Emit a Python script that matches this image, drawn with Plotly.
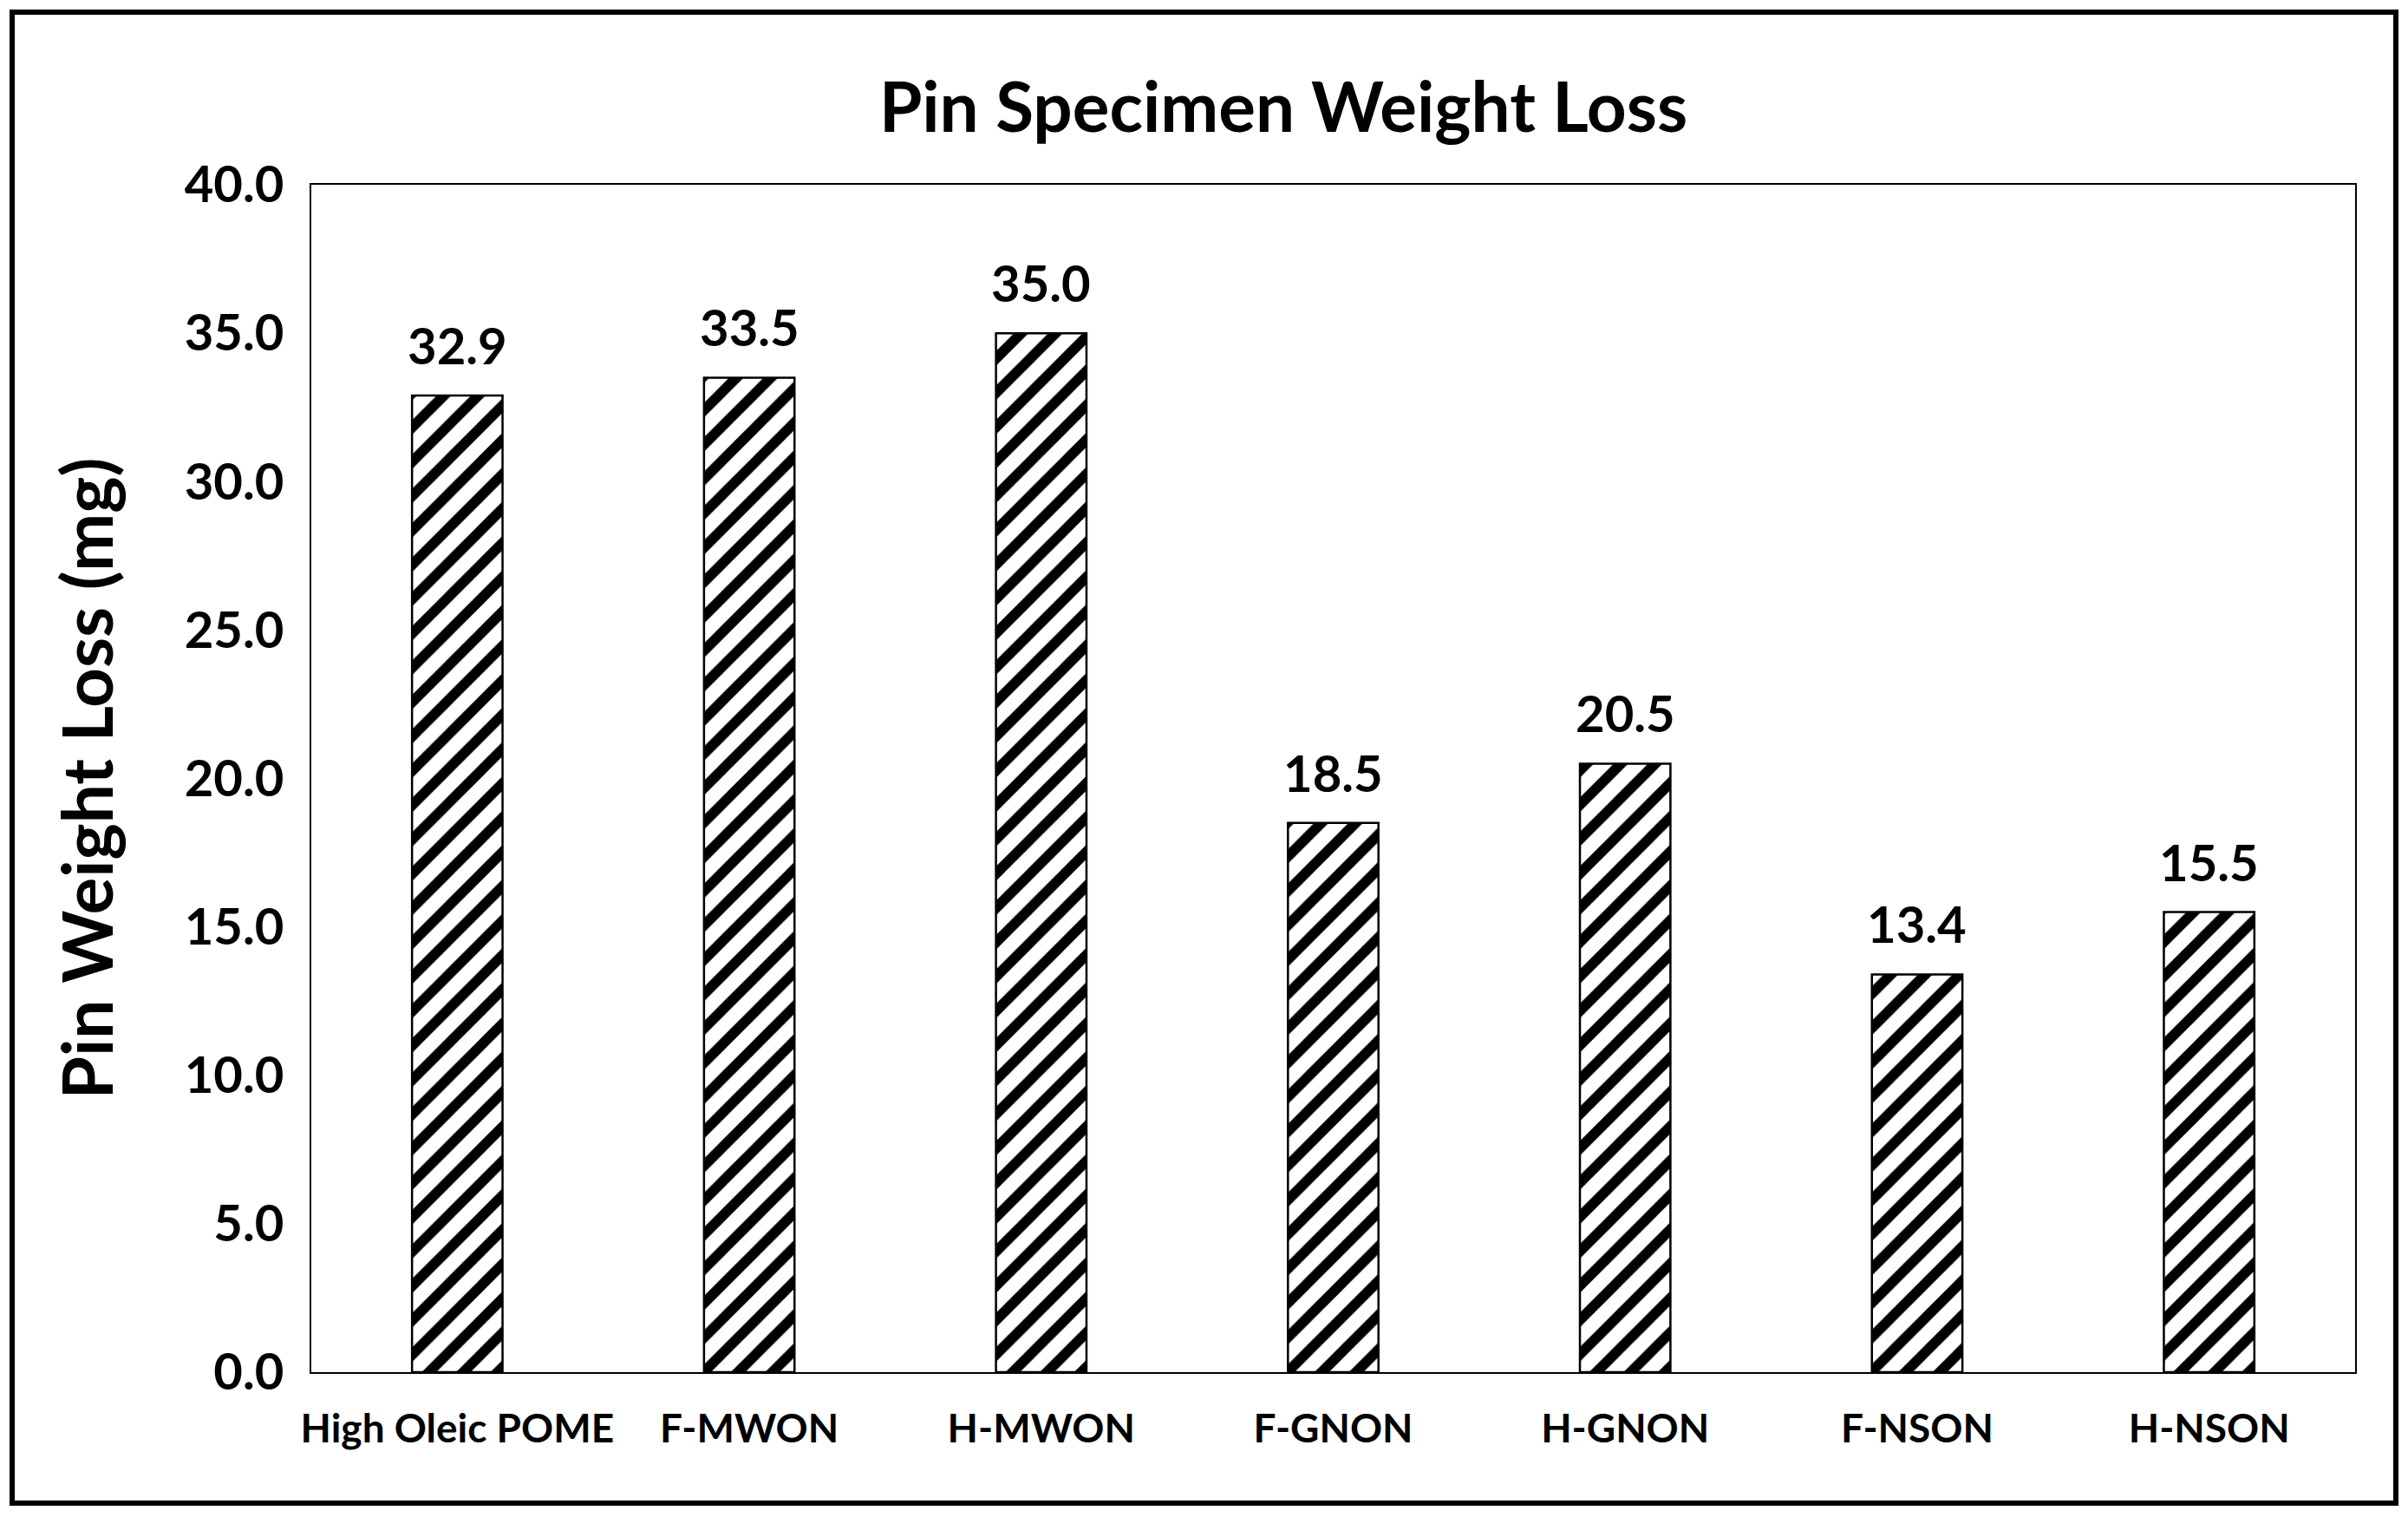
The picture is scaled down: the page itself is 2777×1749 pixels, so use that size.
import plotly.graph_objects as go

categories = ["High Oleic POME", "F-MWON", "H-MWON", "F-GNON", "H-GNON", "F-NSON", "H-NSON"]
weight_loss = [32.9, 33.5, 35.0, 18.5, 20.5, 13.4, 15.5]
value_labels = ["32.9", "33.5", "35.0", "18.5", "20.5", "13.4", "15.5"]
y_ticks = [0, 5, 10, 15, 20, 25, 30, 35, 40]
y_tick_labels = ["0.0", "5.0", "10.0", "15.0", "20.0", "25.0", "30.0", "35.0", "40.0"]

W, H = 2777, 1749
L, R, T, B = 359, 2716, 213, 1582
FONT = "Lato"

fig = go.Figure(
    go.Bar(
        x=categories,
        y=weight_loss,
        width=0.31,
        marker=dict(
            color="white",
            line=dict(color="black", width=2.5),
            pattern=dict(shape="/", fgcolor="black", bgcolor="white", size=28,
                         solidity=0.42, fgopacity=1),
        ),
        showlegend=False,
    )
)

for c, v, t in zip(categories, weight_loss, value_labels):
    fig.add_annotation(
        x=c, y=v, text=f"<b>{t}</b>", showarrow=False, yanchor="bottom", yshift=22,
        font=dict(family=FONT, size=58, color="black"),
    )

pw, ph = R - L, B - T
def px(X):
    return (X - L) / pw
def py(Y):
    return (B - Y) / ph

fig.add_annotation(
    x=px(98), y=0.5, xref="paper", yref="paper", text="<b>Pin Weight Loss (mg)</b>",
    textangle=-90, showarrow=False, xanchor="center", yanchor="middle",
    font=dict(family=FONT, size=80, color="black"),
)

fig.add_shape(
    type="rect", xref="paper", yref="paper",
    x0=px(14), x1=px(2763), y0=py(1733), y1=py(14),
    line=dict(color="black", width=6), fillcolor="rgba(0,0,0,0)", layer="above",
)

fig.update_layout(
    width=W, height=H,
    margin=dict(l=L, r=W - R, t=T, b=H - B),
    paper_bgcolor="white", plot_bgcolor="white",
    title=dict(
        text="<b>Pin Specimen Weight Loss</b>", x=px(1480), xanchor="center",
        y=1 - 124 / H, yanchor="middle", xref="paper",
        font=dict(family=FONT, size=80, color="black"),
    ),
    xaxis=dict(
        showline=True, linecolor="black", linewidth=2, mirror=True,
        showgrid=False, ticks="", tickfont=dict(family=FONT, size=46, color="black"),
        ticklabelstandoff=24,
    ),
    yaxis=dict(
        range=[0, 40], tickvals=y_ticks, ticktext=[f"<b>{t}</b>" for t in y_tick_labels],
        showline=True, linecolor="black", linewidth=2, mirror=True,
        showgrid=False, ticks="", zeroline=False,
        tickfont=dict(family=FONT, size=58, color="black"), ticklabelstandoff=18,
    ),
)
fig.update_xaxes(tickvals=categories, ticktext=[f"<b>{c}</b>" for c in categories])

fig.write_html("out.html", config={"displayModeBar": False},
               post_script="document.body.style.margin='0';")
